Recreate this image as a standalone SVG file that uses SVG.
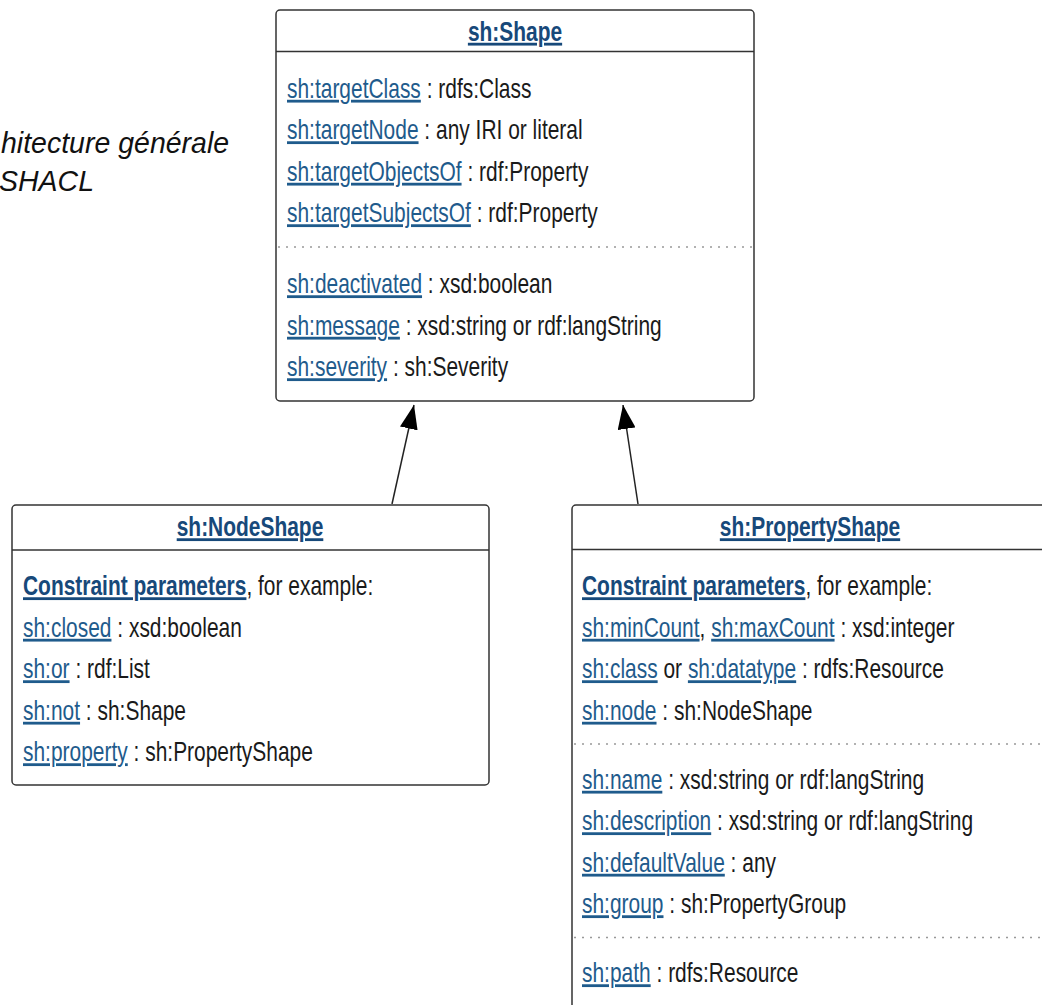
<svg xmlns="http://www.w3.org/2000/svg" width="1042" height="1005" viewBox="0 0 1042 1005">
<style>
.t{font-family:"Liberation Sans",Arial,sans-serif;font-size:28px;fill:#1a1a1a}
.l{fill:#1f5b8c;text-decoration:underline;text-decoration-color:#666}
.h{font-weight:bold;fill:#17497a;text-decoration:underline;text-decoration-color:#666}
.box{fill:#fff;stroke:#333;stroke-width:1.5}
.sep{stroke:#333;stroke-width:1.5}
.dot{stroke:#999;stroke-width:1.5;stroke-dasharray:2 6}
.cap{font-family:"Liberation Sans",Arial,sans-serif;font-size:30px;font-style:italic;fill:#111}
.edge{stroke:#222;stroke-width:1.5;fill:none}
</style>
<defs>
<marker id="arr" viewBox="0 0 24 18" refX="24" refY="9" markerWidth="24" markerHeight="18" markerUnits="userSpaceOnUse" orient="auto">
<path d="M0,0 L24,9 L0,18 z" fill="#000"/>
</marker>
</defs>
<rect width="1042" height="1005" fill="#fff"/>
<text class="cap" transform="matrix(0.95 0 0 1 1 153)">hitecture générale</text>
<text class="cap" transform="matrix(0.95 0 0 1 -1 191)">SHACL</text>

<g id="connectors">
<line class="edge" x1="392" y1="504" x2="414" y2="405" marker-end="url(#arr)"/>
<line class="edge" x1="638" y1="504" x2="623" y2="405" marker-end="url(#arr)"/>
</g>

<g id="shape">
<rect class="box" x="276" y="10" width="478" height="391" rx="4"/>
<line class="sep" x1="276" y1="51.5" x2="754" y2="51.5"/>
<line class="dot" x1="278" y1="247" x2="754" y2="247"/>
<text class="t h" text-anchor="middle" transform="matrix(0.748 0 0 1 515 40.5)">sh:Shape</text>
<text class="t" transform="matrix(0.748 0 0 1 287 97.5)"><tspan class="l">sh:targetClass</tspan> : rdfs:Class</text>
<text class="t" transform="matrix(0.748 0 0 1 287 139)"><tspan class="l">sh:targetNode</tspan> : any IRI or literal</text>
<text class="t" transform="matrix(0.748 0 0 1 287 180.5)"><tspan class="l">sh:targetObjectsOf</tspan> : rdf:Property</text>
<text class="t" transform="matrix(0.748 0 0 1 287 222)"><tspan class="l">sh:targetSubjectsOf</tspan> : rdf:Property</text>
<text class="t" transform="matrix(0.748 0 0 1 287 293)"><tspan class="l">sh:deactivated</tspan> : xsd:boolean</text>
<text class="t" transform="matrix(0.748 0 0 1 287 334.5)"><tspan class="l">sh:message</tspan> : xsd:string or rdf:langString</text>
<text class="t" transform="matrix(0.748 0 0 1 287 376)"><tspan class="l">sh:severity</tspan> : sh:Severity</text>
</g>

<g id="nodeshape">
<rect class="box" x="12" y="505" width="477" height="280" rx="4"/>
<line class="sep" x1="12" y1="550" x2="489" y2="550"/>
<text class="t h" text-anchor="middle" transform="matrix(0.748 0 0 1 250 536)">sh:NodeShape</text>
<text class="t" transform="matrix(0.748 0 0 1 23 595)"><tspan class="h">Constraint parameters</tspan>, for example:</text>
<text class="t" transform="matrix(0.748 0 0 1 23 636.5)"><tspan class="l">sh:closed</tspan> : xsd:boolean</text>
<text class="t" transform="matrix(0.748 0 0 1 23 678)"><tspan class="l">sh:or</tspan> : rdf:List</text>
<text class="t" transform="matrix(0.748 0 0 1 23 719.5)"><tspan class="l">sh:not</tspan> : sh:Shape</text>
<text class="t" transform="matrix(0.748 0 0 1 23 761)"><tspan class="l">sh:property</tspan> : sh:PropertyShape</text>
</g>

<g id="propertyshape">
<rect class="box" x="572" y="505" width="480" height="520" rx="4"/>
<line class="sep" x1="572" y1="549.5" x2="1042" y2="549.5"/>
<line class="dot" x1="574" y1="744" x2="1042" y2="744"/>
<line class="dot" x1="574" y1="937.5" x2="1042" y2="937.5"/>
<text class="t h" text-anchor="middle" transform="matrix(0.748 0 0 1 810 536)">sh:PropertyShape</text>
<text class="t" transform="matrix(0.748 0 0 1 582 595)"><tspan class="h">Constraint parameters</tspan>, for example:</text>
<text class="t" transform="matrix(0.748 0 0 1 582 636.5)"><tspan class="l">sh:minCount</tspan>, <tspan class="l">sh:maxCount</tspan> : xsd:integer</text>
<text class="t" transform="matrix(0.748 0 0 1 582 678)"><tspan class="l">sh:class</tspan> or <tspan class="l">sh:datatype</tspan> : rdfs:Resource</text>
<text class="t" transform="matrix(0.748 0 0 1 582 719.5)"><tspan class="l">sh:node</tspan> : sh:NodeShape</text>
<text class="t" transform="matrix(0.748 0 0 1 582 788.5)"><tspan class="l">sh:name</tspan> : xsd:string or rdf:langString</text>
<text class="t" transform="matrix(0.748 0 0 1 582 830)"><tspan class="l">sh:description</tspan> : xsd:string or rdf:langString</text>
<text class="t" transform="matrix(0.748 0 0 1 582 871.5)"><tspan class="l">sh:defaultValue</tspan> : any</text>
<text class="t" transform="matrix(0.748 0 0 1 582 913)"><tspan class="l">sh:group</tspan> : sh:PropertyGroup</text>
<text class="t" transform="matrix(0.748 0 0 1 582 982)"><tspan class="l">sh:path</tspan> : rdfs:Resource</text>
</g>
</svg>
